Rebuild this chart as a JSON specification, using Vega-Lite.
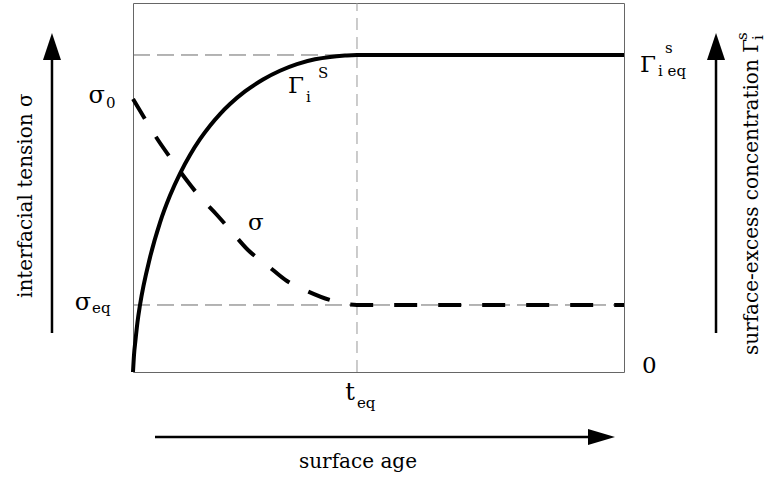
{
  "$schema": "https://vega.github.io/schema/vega-lite/v6.json",
  "width": 491,
  "height": 369,
  "autosize": {"type": "none"},
  "padding": {"left": 133, "top": 3, "right": 140, "bottom": 107},
  "background": "white",
  "config": {
    "view": {"stroke": "#666666", "strokeWidth": 1},
    "text": {"font": "DejaVu Serif", "color": "black"}
  },
  "datasets": {
    "gamma": [
      {"t": 0, "v": 0},
      {"t": 0.204, "v": 4.61},
      {"t": 0.509, "v": 8.67},
      {"t": 0.916, "v": 13.55},
      {"t": 1.426, "v": 18.16},
      {"t": 3.462, "v": 31.03},
      {"t": 5.499, "v": 40.51},
      {"t": 7.536, "v": 47.83},
      {"t": 9.572, "v": 53.79},
      {"t": 11.609, "v": 58.81},
      {"t": 13.646, "v": 63.08},
      {"t": 15.682, "v": 66.73},
      {"t": 17.719, "v": 69.89},
      {"t": 19.756, "v": 72.61},
      {"t": 22.811, "v": 76.03},
      {"t": 26.477, "v": 79.28},
      {"t": 29.939, "v": 81.65},
      {"t": 33.401, "v": 83.45},
      {"t": 37.067, "v": 84.74},
      {"t": 40.122, "v": 85.39},
      {"t": 43.177, "v": 85.75},
      {"t": 45.62, "v": 85.91},
      {"t": 100, "v": 85.91}
    ],
    "sigma": [
      {"t": 0, "v": 73.98},
      {"t": 2.44, "v": 68.56},
      {"t": 5.09, "v": 62.87},
      {"t": 7.94, "v": 57.45},
      {"t": 10.59, "v": 52.57},
      {"t": 13.65, "v": 47.43},
      {"t": 17.11, "v": 42.55},
      {"t": 20.16, "v": 37.94},
      {"t": 23.42, "v": 33.06},
      {"t": 27.29, "v": 29.0},
      {"t": 31.36, "v": 24.66},
      {"t": 35.44, "v": 21.95},
      {"t": 40.12, "v": 19.51},
      {"t": 45.62, "v": 18.16},
      {"t": 100, "v": 18.16}
    ],
    "levels": [
      {"t": 0, "t2": 45.62, "v": 85.91, "v2": 85.91},
      {"t": 0, "t2": 100, "v": 18.16, "v2": 18.16}
    ],
    "equilibrium": [
      {"t": 45.62, "t2": 45.62, "v": 0, "v2": 100}
    ],
    "shafts": [
      {"t": -16.5, "t2": -16.5, "v": 10.57, "v2": 84.55},
      {"t": 118.74, "t2": 118.74, "v": 10.57, "v2": 84.55},
      {"t": 4.48, "t2": 92.67, "v": -17.62, "v2": -17.62}
    ],
    "headsUp": [
      {"t": -16.5, "v": 88.21},
      {"t": 118.74, "v": 88.21}
    ],
    "headsRight": [
      {"t": 95.42, "v": -17.62}
    ],
    "mainRight": [
      {"label": "σ", "t": -5.7, "v": 72.9},
      {"label": "σ", "t": -8.55, "v": 16.8},
      {"label": "t", "t": 45.21, "v": -7.59}
    ],
    "mainLeft": [
      {"label": "σ", "t": 23.42, "v": 38.48},
      {"label": "Γ", "t": 31.57, "v": 75.61},
      {"label": "Γ", "t": 103.26, "v": 81.3},
      {"label": "0", "t": 103.67, "v": -0.27}
    ],
    "subs": [
      {"label": "0", "t": -5.5, "v": 71.54},
      {"label": "eq", "t": -8.35, "v": 15.99},
      {"label": "eq", "t": 45.62, "v": -9.76},
      {"label": "i", "t": 35.23, "v": 73.17},
      {"label": "S", "t": 37.67, "v": 79.67},
      {"label": "s", "t": 108.35, "v": 86.45},
      {"label": "i eq", "t": 106.92, "v": 80.22}
    ],
    "title": [
      {"label": "surface age", "t": 45.82, "v": -26.02}
    ],
    "sideTitles": [
      {"label": "interfacial tension σ", "t": -20.57, "v": 20.05},
      {"label": "surface-excess concentration Γ", "t": 127.29, "v": 4.61}
    ],
    "sideScripts": [
      {"label": "i", "t": 128.31, "v": 90.0},
      {"label": "s", "t": 125.05, "v": 90.0}
    ]
  },
  "encoding": {
    "x": {"field": "t", "type": "quantitative", "scale": {"domain": [0, 100], "nice": false, "zero": false}, "axis": null},
    "y": {"field": "v", "type": "quantitative", "scale": {"domain": [0, 100], "nice": false, "zero": false}, "axis": null}
  },
  "layer": [
    {
      "data": {"name": "levels"},
      "mark": {"type": "rule", "color": "#6a6a6a", "strokeWidth": 1, "strokeDash": [17, 7]},
      "encoding": {"x2": {"field": "t2"}, "y2": {"field": "v2"}}
    },
    {
      "data": {"name": "equilibrium"},
      "mark": {"type": "rule", "color": "#999999", "strokeWidth": 1, "strokeDash": [12, 7]},
      "encoding": {"x2": {"field": "t2"}, "y2": {"field": "v2"}}
    },
    {
      "data": {"name": "sigma"},
      "mark": {"type": "line", "color": "black", "strokeWidth": 4, "strokeDash": [23, 21], "interpolate": "monotone", "strokeCap": "butt"},
      "encoding": {"order": {"field": "t", "type": "quantitative"}}
    },
    {
      "data": {"name": "gamma"},
      "mark": {"type": "line", "color": "black", "strokeWidth": 4, "interpolate": "monotone"},
      "encoding": {"order": {"field": "t", "type": "quantitative"}}
    },
    {
      "data": {"name": "shafts"},
      "mark": {"type": "rule", "color": "black", "strokeWidth": 2.5},
      "encoding": {"x2": {"field": "t2"}, "y2": {"field": "v2"}}
    },
    {
      "data": {"name": "headsUp"},
      "mark": {"type": "point", "shape": "M0,-1L0.667,1L-0.667,1Z", "size": 729, "filled": true, "color": "black", "opacity": 1, "strokeWidth": 0}
    },
    {
      "data": {"name": "headsRight"},
      "mark": {"type": "point", "shape": "M1,0L-1,0.6L-1,-0.6Z", "size": 729, "filled": true, "color": "black", "opacity": 1, "strokeWidth": 0}
    },
    {
      "data": {"name": "mainRight"},
      "mark": {"type": "text", "font": "DejaVu Serif", "fontSize": 24, "align": "right", "baseline": "alphabetic"},
      "encoding": {"text": {"field": "label"}}
    },
    {
      "data": {"name": "mainLeft"},
      "mark": {"type": "text", "font": "DejaVu Serif", "fontSize": 23, "align": "left", "baseline": "alphabetic"},
      "encoding": {"text": {"field": "label"}}
    },
    {
      "data": {"name": "subs"},
      "mark": {"type": "text", "font": "DejaVu Serif", "fontSize": 15, "align": "left", "baseline": "alphabetic"},
      "encoding": {"text": {"field": "label"}}
    },
    {
      "data": {"name": "title"},
      "mark": {"type": "text", "font": "DejaVu Serif", "fontSize": 20, "align": "center", "baseline": "alphabetic"},
      "encoding": {"text": {"field": "label"}}
    },
    {
      "data": {"name": "sideTitles"},
      "mark": {"type": "text", "font": "DejaVu Serif", "fontSize": 20, "align": "left", "baseline": "alphabetic", "angle": 270},
      "encoding": {"text": {"field": "label"}}
    },
    {
      "data": {"name": "sideScripts"},
      "mark": {"type": "text", "font": "DejaVu Serif", "fontSize": 15, "align": "left", "baseline": "alphabetic", "angle": 270},
      "encoding": {"text": {"field": "label"}}
    }
  ]
}
